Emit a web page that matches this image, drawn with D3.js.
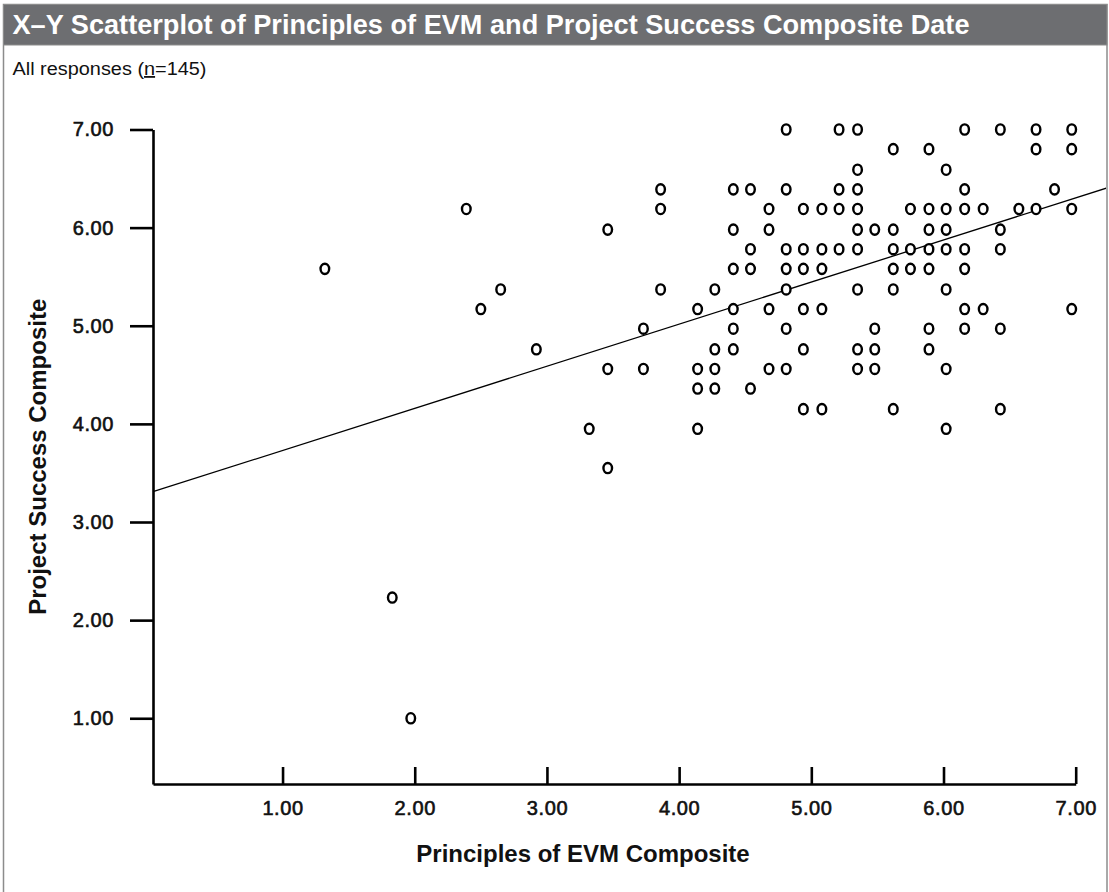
<!DOCTYPE html>
<html>
<head>
<meta charset="utf-8">
<script src="https://cdn.jsdelivr.net/npm/d3@7"></script>
<style>
  body { margin: 0; background: #fff; }
  svg { display: block; }
</style>
</head>
<body>
<svg class="chart" width="1109" height="892"></svg>
<script>
// x = Principles of EVM Composite, y = Project Success Composite (one entry per visible point)
const evmComposite = [
  4.81, 5.21, 5.35, 6.16, 6.43, 6.70, 6.97,                  // 7.00
  5.62, 5.89, 6.70, 6.97,                                    // 6.80
  5.35, 6.02,                                                // 6.59
  3.86, 4.41, 4.54, 4.81, 5.21, 5.35, 6.16, 6.84,            // 6.39
  2.39, 3.86, 4.68, 4.94, 5.08, 5.21, 5.35, 5.75, 5.89, 6.02, 6.16, 6.30, 6.57, 6.70, 6.97, // 6.19
  3.46, 4.41, 4.68, 5.35, 5.48, 5.62, 5.89, 6.02, 6.43,      // 5.98
  4.54, 4.81, 4.94, 5.08, 5.21, 5.35, 5.62, 5.75, 5.89, 6.02, 6.16, 6.43, // 5.78
  1.32, 4.41, 4.54, 4.81, 4.94, 5.08, 5.62, 5.75, 5.89, 6.16, // 5.58
  2.65, 3.86, 4.27, 4.81, 5.35, 5.62, 6.02,                  // 5.37
  2.50, 4.14, 4.41, 4.68, 4.94, 5.08, 6.16, 6.30, 6.97,      // 5.17
  3.73, 4.41, 4.81, 5.48, 5.89, 6.16, 6.43,                  // 4.97
  2.92, 4.27, 4.41, 4.94, 5.35, 5.48, 5.89,                  // 4.76
  3.46, 3.73, 4.14, 4.27, 4.68, 4.81, 5.35, 5.48, 6.02,      // 4.56
  4.14, 4.27, 4.54,                                          // 4.36
  4.94, 5.08, 5.62, 6.43,                                    // 4.15
  3.32, 4.14, 6.02,                                          // 3.95
  3.46,                                                      // 3.55
  1.83, 1.97                                                 // low outliers
];
const successComposite = [
  7.00, 7.00, 7.00, 7.00, 7.00, 7.00, 7.00,
  6.80, 6.80, 6.80, 6.80,
  6.59, 6.59,
  6.39, 6.39, 6.39, 6.39, 6.39, 6.39, 6.39, 6.39,
  6.19, 6.19, 6.19, 6.19, 6.19, 6.19, 6.19, 6.19, 6.19, 6.19, 6.19, 6.19, 6.19, 6.19, 6.19,
  5.98, 5.98, 5.98, 5.98, 5.98, 5.98, 5.98, 5.98, 5.98,
  5.78, 5.78, 5.78, 5.78, 5.78, 5.78, 5.78, 5.78, 5.78, 5.78, 5.78, 5.78,
  5.58, 5.58, 5.58, 5.58, 5.58, 5.58, 5.58, 5.58, 5.58, 5.58,
  5.37, 5.37, 5.37, 5.37, 5.37, 5.37, 5.37,
  5.17, 5.17, 5.17, 5.17, 5.17, 5.17, 5.17, 5.17, 5.17,
  4.97, 4.97, 4.97, 4.97, 4.97, 4.97, 4.97,
  4.76, 4.76, 4.76, 4.76, 4.76, 4.76, 4.76,
  4.56, 4.56, 4.56, 4.56, 4.56, 4.56, 4.56, 4.56, 4.56,
  4.36, 4.36, 4.36,
  4.15, 4.15, 4.15, 4.15,
  3.95, 3.95, 3.95,
  3.55,
  2.23, 1.00
];
const xTicks = [1, 2, 3, 4, 5, 6, 7];
const yTicks = [1, 2, 3, 4, 5, 6, 7];
// fitted line y = a + b*x
const fitIntercept = 3.30;
const fitSlope = 0.429;

const svg = d3.select(".chart");
const width = 1109;
const height = 892;

// outer frame + title bar
svg.append("rect")
  .attr("x", 3.5).attr("y", 4.5)
  .attr("width", 1103.5).attr("height", height)
  .attr("fill", "none")
  .attr("stroke", "#8c8c8c")
  .attr("stroke-width", 1.5);

svg.append("rect")
  .attr("x", 3.5).attr("y", 4.5)
  .attr("width", 1103.5).attr("height", 40.5)
  .attr("fill", "#6d6e71")
  .attr("stroke", "#8c8c8c")
  .attr("stroke-width", 1);

svg.append("text")
  .attr("x", 12.5).attr("y", 33.5)
  .attr("fill", "#fff")
  .attr("font-family", "'Liberation Sans Narrow', 'Liberation Sans', sans-serif")
  .attr("font-weight", "bold")
  .attr("font-size", 28)
  .attr("textLength", 957)
  .attr("lengthAdjust", "spacingAndGlyphs")
  .text("X\u2013Y Scatterplot of Principles of EVM and Project Success Composite Date");

const sub = svg.append("text")
  .attr("x", 12.5).attr("y", 75)
  .attr("fill", "#111")
  .attr("font-family", "'Liberation Sans', sans-serif")
  .attr("font-size", 18)
  .attr("textLength", 194)
  .attr("lengthAdjust", "spacingAndGlyphs");
sub.append("tspan").text("All responses (");
sub.append("tspan").attr("text-decoration", "underline").text("n");
sub.append("tspan").text("=145)");

// scales
const x = d3.scaleLinear().domain([0.02, 7]).range([153, 1075.7]);
const y = d3.scaleLinear().domain([0.33, 7]).range([784, 129.5]);

const fmt = d3.format(".2f");

const yAxis = svg.append("g")
  .attr("transform", `translate(${x(0.02)},0)`)
  .call(d3.axisLeft(y).tickValues(yTicks).tickSize(23).tickSizeOuter(0).tickPadding(16).tickFormat(fmt));

const xAxis = svg.append("g")
  .attr("transform", `translate(0,${y(0.33)})`)
  .call(d3.axisBottom(x).tickValues(xTicks).tickSize(-17).tickSizeOuter(0).tickPadding(17).tickFormat(fmt));

[xAxis, yAxis].forEach((g) => {
  g.select(".domain").attr("stroke", "#000").attr("stroke-width", 2.6);
  g.selectAll(".tick line").attr("stroke", "#000").attr("stroke-width", 2.6);
  // slightly heavier than regular, like the medium face in the original
  g.selectAll(".tick text")
    .attr("fill", "#111")
    .attr("stroke", "#111")
    .attr("stroke-width", 0.6)
    .attr("font-family", "'Liberation Sans', sans-serif")
    .attr("font-size", 20)
    .attr("letter-spacing", 0.6);
});

// axis titles
svg.append("text")
  .attr("transform", `translate(46,${(y(0.33) + y(7)) / 2}) rotate(-90)`)
  .attr("text-anchor", "middle")
  .attr("font-family", "'Liberation Sans', sans-serif")
  .attr("font-weight", "bold")
  .attr("font-size", 24)
  .attr("fill", "#111")
  .text("Project Success Composite");

svg.append("text")
  .attr("x", 583).attr("y", 862)
  .attr("text-anchor", "middle")
  .attr("font-family", "'Liberation Sans', sans-serif")
  .attr("font-weight", "bold")
  .attr("font-size", 24)
  .attr("fill", "#111")
  .text("Principles of EVM Composite");

// fit line, clipped at the frame
svg.append("clipPath").attr("id", "plotClip")
  .append("rect").attr("x", 0).attr("y", 46).attr("width", 1106).attr("height", 800);

const fitX = [0.02, 7.3];
svg.append("path")
  .attr("clip-path", "url(#plotClip)")
  .attr("d", d3.line()(fitX.map((v) => [x(v), y(fitIntercept + fitSlope * v)])))
  .attr("fill", "none")
  .attr("stroke", "#000")
  .attr("stroke-width", 1.3);

// points
const points = evmComposite.map((v, i) => ({ evm: v, success: successComposite[i] }));

svg.append("g")
  .selectAll("ellipse")
  .data(points)
  .join("ellipse")
  .attr("cx", (d) => x(d.evm))
  .attr("cy", (d) => y(d.success))
  .attr("rx", 4.3)
  .attr("ry", 5.1)
  .attr("fill", "#fff")
  .attr("stroke", "#000")
  .attr("stroke-width", 2.4);
</script>
</body>
</html>
